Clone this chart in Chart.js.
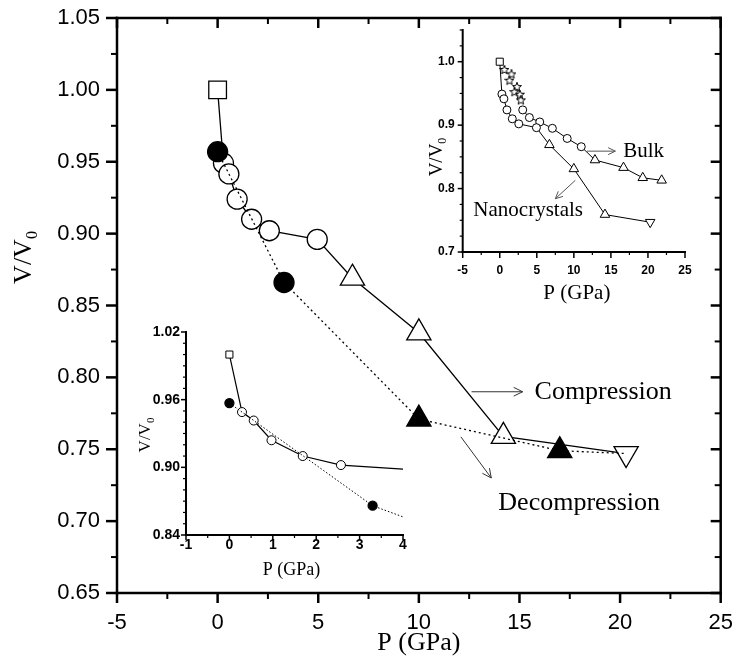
<!DOCTYPE html>
<html>
<head>
<meta charset="utf-8">
<script src="https://cdn.jsdelivr.net/npm/chart.js@4.4.0/dist/chart.umd.min.js"></script>
<style>
  body { margin: 0; background: #fff; }
  #wrap { position: relative; width: 736px; height: 669px; background: #fff; }
  #wrap canvas { position: absolute; }
</style>
</head>
<body>
<div id="wrap">
  <canvas id="main" width="736" height="669" style="left:0;top:0"></canvas>
  <canvas id="insetL" width="300" height="267" style="left:120px;top:318px"></canvas>
  <canvas id="insetR" width="300" height="300" style="left:420px;top:14px"></canvas>
</div>
<script>
// nanocrystals, compression (solid line)
const compP = [0, 0.29, 0.56, 0.97, 1.69, 2.57, 4.95, 6.7, 10, 14.2, 20.3];
const compV = [1.000, 0.949, 0.9415, 0.924, 0.910, 0.902, 0.896, 0.869, 0.831, 0.759, 0.747];
const compMarks = ["rect", "circle", "circle", "circle", "circle", "circle", "circle", "triangle", "triangle", "triangle", "down"];

// nanocrystals, decompression (dotted line)
const decP = [0, 3.3, 10, 17, 20.3];
const decV = [0.957, 0.866, 0.771, 0.749, 0.747];
const decMarks = ["circle", "circle", "triangle", "triangle", "none"];

// bulk (top right inset)
const bulkStarP = [0.63, 1.58, 1.31, 2.32, 1.98, 2.72, 2.85];
const bulkStarV = [0.987, 0.980, 0.970, 0.960, 0.952, 0.948, 0.939];
const bulkP = [3.1, 4.0, 5.4, 7.1, 9.1, 11.0, 12.85, 16.7, 19.3, 21.85];
const bulkV = [0.924, 0.912, 0.905, 0.895, 0.879, 0.866, 0.845, 0.833, 0.817, 0.813];
const bulkMarks = ["circle", "circle", "circle", "circle", "circle", "circle", "triangle", "triangle", "triangle", "triangle"];

function starImage(size) {
  const c = document.createElement("canvas");
  c.width = c.height = size;
  const g = c.getContext("2d");
  g.beginPath();
  for (let i = 0; i < 10; i++) {
    const r = i % 2 ? size * 0.2 : size * 0.47;
    const ang = -Math.PI / 2 + i * Math.PI / 5;
    g.lineTo(size / 2 + r * Math.cos(ang), size / 2 + r * Math.sin(ang));
  }
  g.closePath();
  g.fillStyle = "#fff";
  g.fill();
  g.strokeStyle = "#000";
  g.lineWidth = 1;
  g.stroke();
  return c;
}

function series(P, V, marks, sizes, fill, opts) {
  return Object.assign({
    data: P.map((p, i) => ({ x: p, y: V[i] })),
    showLine: true,
    borderColor: "#000",
    borderWidth: 1.3,
    pointStyle: marks.map(m => (m === "down" || m === "triangle") ? "triangle" : (m === "none" ? "circle" : m)),
    pointRotation: marks.map(m => m === "down" ? 180 : 0),
    pointRadius: marks.map(m => m === "none" ? 0 : sizes[m]),
    pointBackgroundColor: fill,
    pointBorderColor: "#000",
    pointBorderWidth: 1.3,
    tension: 0
  }, opts || {});
}

// tick marks, frame, titles, arrows and notes
const deco = {
  id: "deco",
  afterDraw(chart, args, o) {
    const ctx = chart.ctx, a = chart.chartArea;
    const sx = chart.scales.x, sy = chart.scales.y;
    ctx.save();
    ctx.strokeStyle = "#000";
    ctx.fillStyle = "#000";
    ctx.lineCap = "square";
    ctx.lineWidth = o.axisWidth;
    const lines = {
      left: [a.left, a.top, a.left, a.bottom],
      right: [a.right, a.top, a.right, a.bottom],
      top: [a.left, a.top, a.right, a.top],
      bottom: [a.left, a.bottom, a.right, a.bottom]
    };
    o.edges.forEach(e => {
      const l = lines[e];
      ctx.beginPath(); ctx.moveTo(l[0], l[1]); ctx.lineTo(l[2], l[3]); ctx.stroke();
    });
    ctx.lineCap = "butt";
    o.marks.forEach(m => {
      const vert = m.edge === "left" || m.edge === "right";
      const sc = vert ? sy : sx;
      const n = Math.round((m.max - m.min) / m.minor);
      const sign = (m.edge === "left" || m.edge === "top") ? -1 : 1;
      for (let i = 0; i <= n; i++) {
        const v = m.min + i * m.minor;
        const q = v / m.major;
        const major = Math.abs(q - Math.round(q)) < 1e-6;
        const len = (major ? m.len[0] : m.len[1]) * (m.dir === "in" ? -sign : sign);
        ctx.lineWidth = major ? m.width[0] : m.width[1];
        const p = sc.getPixelForValue(v);
        ctx.beginPath();
        if (vert) {
          const x0 = m.edge === "left" ? a.left : a.right;
          ctx.moveTo(x0, p); ctx.lineTo(x0 + len, p);
        } else {
          const y0 = m.edge === "top" ? a.top : a.bottom;
          ctx.moveTo(p, y0); ctx.lineTo(p, y0 + len);
        }
        ctx.stroke();
      }
    });
    // axis titles
    const serif = '"Liberation Serif", "Times New Roman", serif';
    function subText(main, sub, x, y, size, rot) {
      ctx.save();
      ctx.translate(x, y);
      ctx.rotate(rot);
      ctx.textBaseline = "middle";
      ctx.textAlign = "left";
      ctx.font = size + "px " + serif;
      const w1 = ctx.measureText(main).width;
      const small = Math.round(size * 0.62) + "px " + serif;
      ctx.font = small;
      const w2 = sub ? ctx.measureText(sub).width : 0;
      const x0 = -(w1 + w2) / 2;
      ctx.font = size + "px " + serif;
      ctx.fillText(main, x0, 0);
      if (sub) { ctx.font = small; ctx.fillText(sub, x0 + w1, size * 0.32); }
      ctx.restore();
    }
    const cx = (a.left + a.right) / 2, cy = (a.top + a.bottom) / 2;
    subText(o.xTitle.text, "", cx + (o.xTitle.dx || 0), a.bottom + o.xTitle.dy, o.xTitle.size, 0);
    subText(o.yTitle.text, o.yTitle.sub, a.left + o.yTitle.dx, cy + o.yTitle.dy, o.yTitle.size, -Math.PI / 2);
    // arrows
    ctx.strokeStyle = o.arrowColor;
    ctx.lineWidth = 1;
    o.arrows.forEach(ar => {
      const x1 = sx.getPixelForValue(ar[0]), y1 = sy.getPixelForValue(ar[1]);
      const x2 = sx.getPixelForValue(ar[2]), y2 = sy.getPixelForValue(ar[3]);
      const ang = Math.atan2(y2 - y1, x2 - x1);
      const h = o.headLen;
      ctx.beginPath();
      ctx.moveTo(x1, y1); ctx.lineTo(x2, y2);
      ctx.moveTo(x2 - h * Math.cos(ang - 0.45), y2 - h * Math.sin(ang - 0.45));
      ctx.lineTo(x2, y2);
      ctx.lineTo(x2 - h * Math.cos(ang + 0.45), y2 - h * Math.sin(ang + 0.45));
      ctx.stroke();
    });
    // notes
    ctx.fillStyle = "#000";
    ctx.textBaseline = "middle";
    ctx.textAlign = "left";
    o.notes.forEach(nt => {
      ctx.font = nt.size + "px " + serif;
      ctx.fillText(nt.text, sx.getPixelForValue(nt.x), sy.getPixelForValue(nt.y));
    });
    ctx.restore();
  }
};

// fixed axis boxes so the plot area sits where the reference has it
function axes(xr, yr, xw, yh, font, pads, digits) {
  return {
    x: {
      type: "linear", min: xr[0], max: xr[1],
      afterFit: s => { s.height = yh; s.paddingLeft = 0; s.paddingRight = 0; },
      grid: { display: false, drawTicks: false }, border: { display: false },
      ticks: { stepSize: xr[2], includeBounds: false, maxRotation: 0, color: "#000", font: font, padding: pads[0],
               callback: v => String(Math.round(v)) }
    },
    y: {
      type: "linear", min: yr[0], max: yr[1],
      afterFit: s => { s.width = xw; s.paddingTop = 0; s.paddingBottom = 0; },
      grid: { display: false, drawTicks: false }, border: { display: false },
      ticks: { stepSize: yr[2], includeBounds: false, color: "#000", font: font, padding: pads[1],
               callback: v => v.toFixed(digits) }
    }
  };
}

const baseOpts = { responsive: false, animation: false, events: [] };

// main chart
new Chart(document.getElementById("main"), {
  type: "scatter",
  data: {
    datasets: [
      series(decP, decV, decMarks, { circle: 10, triangle: 14 }, "#000", { borderDash: [2, 3] }),
      series(compP, compV, compMarks, { rect: 12.5, circle: 10, triangle: 14, down: 14 }, "#fff")
    ]
  },
  options: Object.assign({}, baseOpts, {
    layout: { padding: { left: 0, top: 18, right: 9, bottom: 0 } },
    scales: axes([-5, 25, 5], [0.65, 1.05, 0.05], 117, 76, { family: "Liberation Sans", size: 22 }, [17, 17], 2),
    plugins: {
      legend: { display: false }, tooltip: { enabled: false },
      deco: {
        axisWidth: 2.5,
        edges: ["left", "right", "top", "bottom"],
        marks: [
          { edge: "left", min: 0.65, max: 1.05, major: 0.05, minor: 0.025, len: [11, 6], width: [2.5, 2], dir: "out" },
          { edge: "right", min: 0.65, max: 1.05, major: 0.05, minor: 0.025, len: [10, 6], width: [2.5, 2], dir: "in" },
          { edge: "bottom", min: -5, max: 25, major: 5, minor: 2.5, len: [10, 6], width: [2.5, 2], dir: "out" },
          { edge: "top", min: -5, max: 25, major: 5, minor: 2.5, len: [10, 6], width: [2.5, 2], dir: "in" }
        ],
        xTitle: { text: "P (GPa)", dy: 50, size: 26 },
        yTitle: { text: "V/V", sub: "0", dx: -93, dy: -48, size: 26 },
        arrowColor: "#333", headLen: 10,
        arrows: [[12.62, 0.790, 15.16, 0.790], [12.09, 0.7586, 13.6, 0.730]],
        notes: [
          { text: "Compression", x: 15.75, y: 0.790, size: 26 },
          { text: "Decompression", x: 13.95, y: 0.7127, size: 26 }
        ]
      }
    }
  }),
  plugins: [deco]
});

// low pressure inset (bottom left)
new Chart(document.getElementById("insetL"), {
  type: "scatter",
  data: {
    datasets: [
      series(decP, decV, decMarks, { circle: 4.5, triangle: 5 }, "#000", { borderDash: [1.5, 2], borderWidth: 1, clip: 0 }),
      series(compP, compV, compMarks, { rect: 5, circle: 4.5, triangle: 5, down: 5 }, "#fff", { borderWidth: 1.2, pointBorderWidth: 1, clip: 0 })
    ]
  },
  options: Object.assign({}, baseOpts, {
    layout: { padding: { left: 0, top: 14, right: 17, bottom: 0 } },
    scales: axes([-1, 4, 1], [0.84, 1.02, 0.06], 66, 50, { family: "Liberation Sans", size: 14, weight: "bold" }, [2, 6], 2),
    plugins: {
      legend: { display: false }, tooltip: { enabled: false },
      deco: {
        axisWidth: 2,
        edges: ["left", "bottom"],
        marks: [
          { edge: "left", min: 0.84, max: 1.02, major: 0.06, minor: 0.01, len: [5, 3], width: [1.5, 1.2], dir: "out" },
          { edge: "bottom", min: -1, max: 4, major: 1, minor: 0.5, len: [5, 3], width: [1.5, 1.2], dir: "out" }
        ],
        xTitle: { text: "P (GPa)", dx: -3, dy: 35, size: 18 },
        yTitle: { text: "V/V", sub: "0", dx: -40, dy: 1.5, size: 17 },
        arrowColor: "#333", headLen: 8,
        arrows: [],
        notes: []
      }
    }
  }),
  plugins: [deco]
});

// bulk vs nanocrystals inset (top right)
const star = starImage(10);
new Chart(document.getElementById("insetR"), {
  type: "scatter",
  data: {
    datasets: [
      series(compP, compV, compMarks, { rect: 5, circle: 4, triangle: 5.5, down: 5.5 }, "#fff", { borderWidth: 1, pointBorderWidth: 1 }),
      series(bulkP, bulkV, bulkMarks, { circle: 4, triangle: 5.5 }, "#fff", { borderWidth: 1, pointBorderWidth: 1 }),
      { data: bulkStarP.map((p, i) => ({ x: p, y: bulkStarV[i] })), showLine: false, pointStyle: star, pointRadius: 5 }
    ]
  },
  options: Object.assign({}, baseOpts, {
    layout: { padding: { left: 0, top: 16, right: 35, bottom: 0 } },
    scales: axes([-5, 25, 5], [0.7, 1.05, 0.1], 42.7, 62, { family: "Liberation Sans", size: 12, weight: "bold" }, [11, 8], 1),
    plugins: {
      legend: { display: false }, tooltip: { enabled: false },
      deco: {
        axisWidth: 2,
        edges: ["left", "bottom"],
        marks: [
          { edge: "left", min: 0.7, max: 1.05, major: 0.1, minor: 0.025, len: [5, 3], width: [1.5, 1.2], dir: "out" },
          { edge: "bottom", min: -5, max: 25, major: 5, minor: 2.5, len: [6, 3], width: [1.5, 1.2], dir: "out" }
        ],
        xTitle: { text: "P (GPa)", dx: 3, dy: 41, size: 21 },
        yTitle: { text: "V/V", sub: "0", dx: -26, dy: 16, size: 19 },
        arrowColor: "#555", headLen: 8,
        arrows: [[11.78, 0.859, 15.6, 0.859], [10.2, 0.813, 7.5, 0.784]],
        notes: [
          { text: "Bulk", x: 16.67, y: 0.859, size: 21 },
          { text: "Nanocrystals", x: -3.56, y: 0.766, size: 21 }
        ]
      }
    }
  }),
  plugins: [deco]
});
</script>
</body>
</html>
